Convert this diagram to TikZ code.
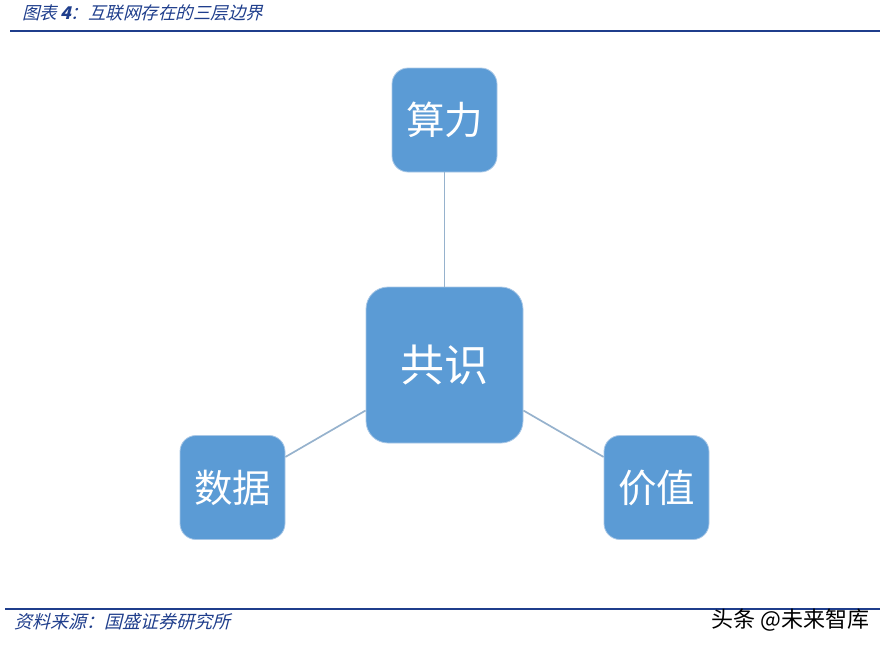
\documentclass[tikz,border=0pt]{standalone}
\usepackage{fontspec}
\usepackage{tikz}
\setmainfont{Noto Sans CJK SC}
\newfontfamily\cjk{Noto Sans CJK SC}
\newfontfamily\cjkslant[FakeSlant=0.25]{Noto Sans CJK SC}
\definecolor{cblue}{RGB}{91,155,213}
\definecolor{cedge}{RGB}{150,178,205}
\definecolor{cdark}{RGB}{31,62,140}
\definecolor{cborder}{RGB}{170,200,230}

\begin{document}
\begin{tikzpicture}[x=1pt,y=-1pt,-,thick,
  main node/.style={rectangle,rounded corners=22pt,fill=cblue,draw=cborder,line width=0.8pt,
    minimum width=157pt,minimum height=156pt,inner sep=0pt,text=white,font=\cjk\fontsize{44}{44}\selectfont},
  others node/.style={rectangle,rounded corners=16pt,fill=cblue,draw=cborder,line width=0.8pt,
    minimum width=105pt,minimum height=104pt,inner sep=0pt,text=white,font=\cjk\fontsize{38.5}{38.5}\selectfont}]
  \useasboundingbox (0,0) rectangle (887,649);

  % header and footer
  \node[anchor=west,text=cdark,font=\cjkslant\fontsize{17.5}{17.5}\selectfont,inner sep=0pt] (title) at (22,13) {图表\,\textbf{4}：互联网存在的三层边界};
  \draw[cdark,line width=2.2pt] (10,31) -- (880,31);
  \draw[cdark,line width=2pt] (5,609) -- (880,609);
  \node[anchor=west,text=cdark,font=\cjkslant\fontsize{18}{18}\selectfont,inner sep=0pt] (source) at (14,622) {资料来源：国盛证券研究所};
  \node[anchor=east,text=black,font=\cjk\fontsize{22}{22}\selectfont,inner sep=0pt] (mark) at (870,620) {头条 @未来智库};

  % nodes
  \node[main node] (1) at (444.5,365) {共识};
  \node[others node] (2) at (444.5,120) {算力};
  \node[others node] (3) at (232.5,487.5) {数据};
  \node[others node] (4) at (656.5,487.5) {价值};

  \path[draw=cedge,line width=1.7pt]
    (1) edge[cedge] (2)
    (1) edge[cedge] (3)
    (1) edge[cedge] (4);
\end{tikzpicture}
\end{document}
